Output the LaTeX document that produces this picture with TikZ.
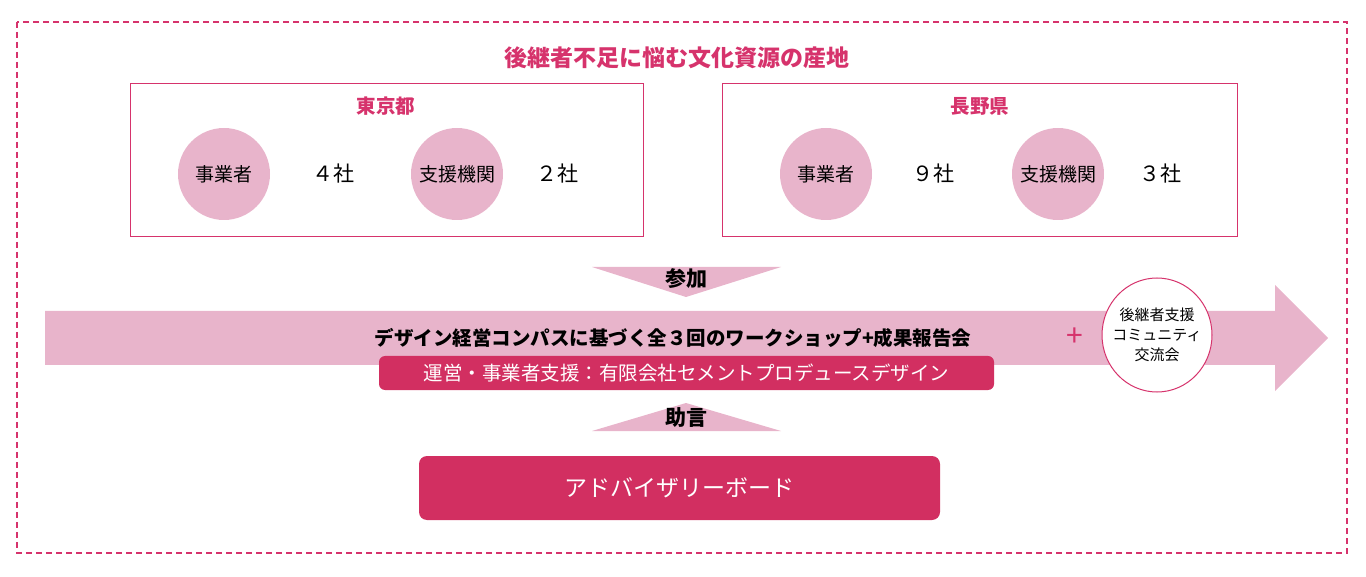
\documentclass[tikz,border=0pt]{standalone}
\usepackage{fontspec}
\setmainfont{Noto Sans CJK JP}
\usetikzlibrary{positioning,shapes.geometric}
\definecolor{lightpink}{HTML}{E8B4CB}
\definecolor{crimson}{HTML}{D22F61}
\definecolor{titlepink}{HTML}{D6336C}

\begin{document}
\begin{tikzpicture}[x=1pt,y=-1pt,
  areabox/.style={draw=titlepink,line width=1pt},
  member/.style={circle,fill=lightpink,minimum size=92pt,inner sep=0pt,font=\fontsize{19}{22}\selectfont},
  count/.style={font=\fontsize{21}{24}\selectfont},
  areaname/.style={text=titlepink,font=\bfseries\fontsize{19.5}{22}\selectfont},
  redbox/.style={fill=crimson,rounded corners=6pt,text=white}]
  \useasboundingbox (0,0) rectangle (1366,577);
  \draw[titlepink,dash pattern=on 6pt off 4pt,line width=1.2pt] (17,22) rectangle (1347,553);

  \node[text=titlepink,font=\bfseries\fontsize{23}{26}\selectfont] (title) at (677,58) {後継者不足に悩む文化資源の産地};

  % Tokyo
  \draw[areabox] (130,84) rectangle (643,237);
  \node[areaname] (tokyo) at (386,106) {東京都};
  \node[member] (tbiz) at (224,174) {事業者};
  \node[count] (tbizn) at (333,174) {４社};
  \node[member] (tsup) at (457,174) {支援機関};
  \node[count] (tsupn) at (557,174) {２社};

  % Nagano
  \draw[areabox] (722,84) rectangle (1237,237);
  \node[areaname] (nagano) at (980,106) {長野県};
  \node[member] (nbiz) at (826,174) {事業者};
  \node[count] (nbizn) at (933,174) {９社};
  \node[member] (nsup) at (1058,174) {支援機関};
  \node[count] (nsupn) at (1160,174) {３社};

  % join
  \fill[lightpink] (592,267) -- (781,267) -- (686,297) -- cycle;
  \node[font=\bfseries\fontsize{21}{24}\selectfont] (join) at (686,279) {参加};

  % main arrow
  \fill[lightpink] (45,311) -- (1275,311) -- (1275,285) -- (1328,338) -- (1275,391) -- (1275,365) -- (45,365) -- cycle;
  \node[font=\bfseries\fontsize{19.5}{22}\selectfont] (workshop) at (673,338) {デザイン経営コンパスに基づく全３回のワークショップ+成果報告会};
  \node[redbox,minimum width=615pt,minimum height=34pt,font=\fontsize{19.5}{22}\selectfont] (office) at (686.5,373) {運営・事業者支援：有限会社セメントプロデュースデザイン};
  \node[text=titlepink,font=\fontsize{30}{30}\selectfont] (plus) at (1075,337) {+};
  \node[ellipse,draw=titlepink,fill=white,line width=1pt,minimum width=110pt,minimum height=114pt,inner xsep=-7pt,inner ysep=0pt,align=center,font=\fontsize{15}{20}\selectfont] (community) at (1157,335) {後継者支援\\コミュニティ\\交流会};

  % advice
  \fill[lightpink] (592,431) -- (781,431) -- (686,403) -- cycle;
  \node[font=\bfseries\fontsize{21}{24}\selectfont] (advice) at (686,418) {助言};

  \node[redbox,rounded corners=8pt,minimum width=521pt,minimum height=64pt,font=\fontsize{23}{26}\selectfont] (board) at (679.5,488) {アドバイザリーボード};
\end{tikzpicture}
\end{document}
